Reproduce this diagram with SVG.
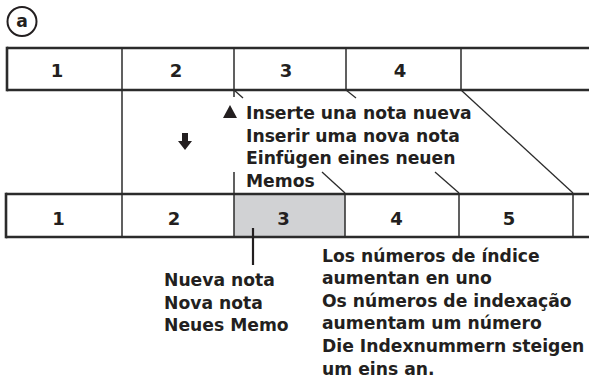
<svg xmlns="http://www.w3.org/2000/svg" width="589" height="379" viewBox="0 0 589 379">
<style>
.t{font-family:"DejaVu Sans","Liberation Sans",sans-serif;font-weight:bold;font-size:17.2px;fill:#231f20}
.n{font-family:"DejaVu Sans","Liberation Sans",sans-serif;font-weight:bold;font-size:18px;fill:#231f20;text-anchor:middle}
.b{stroke:#2b2b2b;stroke-width:2.6;fill:none}
.v{stroke:#2b2b2b;stroke-width:1.5;fill:none}
.d{stroke:#2b2b2b;stroke-width:1.3;fill:none}
</style>
<rect width="589" height="379" fill="#fff"/>
<g id="label-a">
<circle cx="22" cy="21.5" r="14.5" fill="none" stroke="#231f20" stroke-width="2"/>
<text class="t" x="22" y="27" text-anchor="middle" font-size="19">a</text>
</g>
<g id="row-top">
<line class="b" x1="7" y1="48" x2="589" y2="48"/>
<line class="b" x1="7" y1="90" x2="589" y2="90"/>
<line class="b" x1="7" y1="46.7" x2="7" y2="91.3"/>
<line class="v" x1="122" y1="48" x2="122" y2="194"/>
<line class="v" x1="234" y1="48" x2="234" y2="97"/>
<line class="v" x1="346" y1="48" x2="346" y2="90"/>
<line class="v" x1="461" y1="48" x2="461" y2="90"/>
<text class="n" x="57" y="77">1</text>
<text class="n" x="176" y="77">2</text>
<text class="n" x="286" y="77">3</text>
<text class="n" x="400" y="77">4</text>
</g>
<g id="row-bottom">
<rect x="234" y="194" width="111" height="43" fill="#d1d2d4"/>
<line class="b" x1="6" y1="194" x2="589" y2="194"/>
<line class="b" x1="6" y1="237" x2="589" y2="237"/>
<line class="b" x1="6" y1="192.7" x2="6" y2="238.3"/>
<line class="v" x1="122" y1="194" x2="122" y2="237"/>
<line class="v" x1="234" y1="172" x2="234" y2="237"/>
<line class="v" x1="345" y1="193" x2="345" y2="237"/>
<line class="v" x1="459" y1="193" x2="459" y2="237"/>
<line class="v" x1="573" y1="193" x2="573" y2="237"/>
<text class="n" x="58.5" y="225">1</text>
<text class="n" x="174" y="225">2</text>
<text class="n" x="283.5" y="225">3</text>
<text class="n" x="396.5" y="225">4</text>
<text class="n" x="509" y="225">5</text>
</g>
<g id="connectors">
<line class="d" x1="234" y1="90" x2="243" y2="98"/>
<line class="d" x1="322" y1="172" x2="345" y2="193"/>
<line class="d" x1="346" y1="90" x2="356" y2="98"/>
<line class="d" x1="435" y1="172" x2="459" y2="193"/>
<line class="d" x1="461" y1="90" x2="573" y2="193"/>
<line x1="253" y1="228" x2="253" y2="265" stroke="#231f20" stroke-width="2.2"/>
</g>
<g id="insert-label">
<polygon points="223,118 237,118 230,105" fill="#231f20"/>
<text class="t" x="246" y="119">Inserte una nota nueva</text>
<text class="t" x="246" y="141.5">Inserir uma nova nota</text>
<text class="t" x="246" y="164">Einfügen eines neuen</text>
<text class="t" x="246" y="187">Memos</text>
</g>
<g id="down-arrow">
<polygon points="182,133 188,133 188,141 192,141 185,150 178,141 182,141" fill="#231f20"/>
</g>
<g id="new-note-label">
<text class="t" x="164" y="286">Nueva nota</text>
<text class="t" x="164" y="308.5">Nova nota</text>
<text class="t" x="164" y="331">Neues Memo</text>
</g>
<g id="index-label">
<text class="t" x="322" y="262">Los números de índice</text>
<text class="t" x="322" y="284">aumentan en uno</text>
<text class="t" x="322" y="307">Os números de indexação</text>
<text class="t" x="322" y="329">aumentam um número</text>
<text class="t" x="322" y="352">Die Indexnummern steigen</text>
<text class="t" x="322" y="374.5">um eins an.</text>
</g>
</svg>
